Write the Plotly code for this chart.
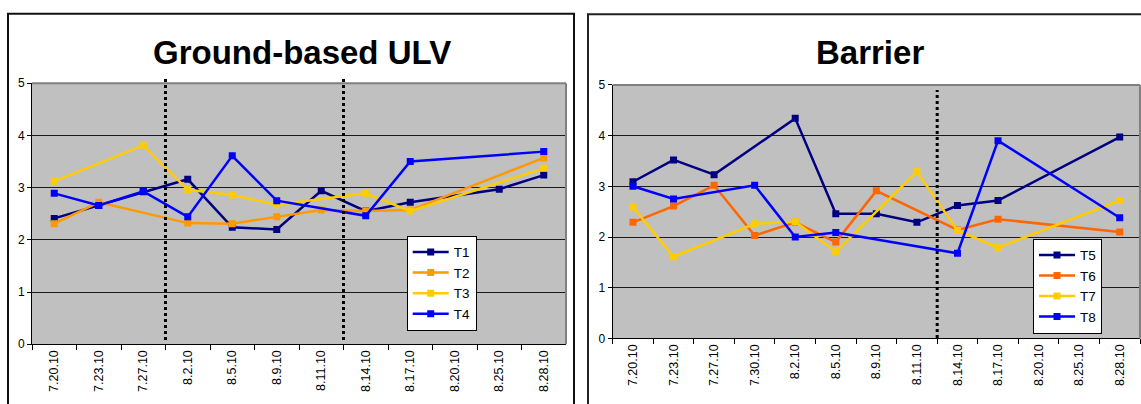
import plotly.graph_objects as go

# ---------------- data ----------------
cats_left = ["7.20.10", "7.23.10", "7.27.10", "8.2.10", "8.5.10", "8.9.10",
             "8.11.10", "8.14.10", "8.17.10", "8.20.10", "8.25.10", "8.28.10"]
T1 = [2.41, 2.66, 2.92, 3.16, 2.24, 2.20, 2.94, 2.55, 2.72, None, 2.97, 3.24]
T2 = [2.31, 2.72, None, 2.32, 2.31, 2.44, 2.57, 2.55, 2.57, None, None, 3.57]
T3 = [3.12, None, 3.81, 2.96, 2.86, 2.67, None, 2.89, 2.55, None, None, 3.37]
T4 = [2.89, 2.66, 2.93, 2.44, 3.61, 2.75, None, 2.46, 3.50, None, None, 3.69]

cats_right = ["7.20.10", "7.23.10", "7.27.10", "7.30.10", "8.2.10", "8.5.10", "8.9.10",
              "8.11.10", "8.14.10", "8.17.10", "8.20.10", "8.25.10", "8.28.10"]
T5 = [3.09, 3.52, 3.23, None, 4.34, 2.46, 2.46, 2.29, 2.62, 2.72, None, None, 3.97]
T6 = [2.29, 2.61, 3.02, 2.03, 2.29, 1.90, 2.91, None, 2.14, 2.35, None, None, 2.10]
T7 = [2.59, 1.61, None, 2.26, 2.30, 1.71, None, 3.29, 2.13, 1.79, None, None, 2.72]
T8 = [3.00, 2.75, None, 3.02, 2.00, 2.09, None, None, 1.68, 3.90, None, None, 2.38]

left_dividers = ["8.2.10", "8.14.10"]   # dotted line just before these dates
right_dividers = ["8.14.10"]

title_left = "Ground-based ULV"
title_right = "Barrier"

# ---------------- figure ----------------
W, H = 1141, 404
FONT = "Liberation Sans, Arial, sans-serif"

def px_x(v):
    return v / W

def px_y(v):
    return 1 - v / H

fig = go.Figure()

left_series = [("T1", T1, "#000080"), ("T2", T2, "#FF9900"),
               ("T3", T3, "#FFCC00"), ("T4", T4, "#0000FF")]
right_series = [("T5", T5, "#000080"), ("T6", T6, "#FF6600"),
                ("T7", T7, "#FFCC00"), ("T8", T8, "#0000FF")]

for name, vals, col in left_series:
    fig.add_trace(go.Scatter(
        x=cats_left, y=vals, name=name, mode="lines+markers",
        connectgaps=True, line=dict(color=col, width=2.5),
        marker=dict(symbol="square", size=7, color=col),
        xaxis="x", yaxis="y", legend="legend"))

for name, vals, col in right_series:
    fig.add_trace(go.Scatter(
        x=cats_right, y=vals, name=name, mode="lines+markers",
        connectgaps=True, line=dict(color=col, width=2.5),
        marker=dict(symbol="square", size=7, color=col),
        xaxis="x2", yaxis="y2", legend="legend2"))

xcommon = dict(type="category", tickson="boundaries", ticks="outside",
               ticklen=5, tickcolor="black", tickangle=-90, showline=True,
               linecolor="black", linewidth=1, showgrid=False, zeroline=False,
               tickfont=dict(family=FONT, size=12.5, color="black"), fixedrange=True)
ycommon = dict(range=[0, 5], dtick=1, ticks="outside", ticklen=4,
               tickcolor="black", showline=True, linecolor="black", linewidth=1,
               showgrid=True, gridcolor="#1a1a1a", gridwidth=1, zeroline=False,
               tickfont=dict(family=FONT, size=12, color="black"), fixedrange=True)

LEG_FONT = 13.5
fig.update_layout(
    width=W, height=H,
    margin=dict(l=0, r=0, t=0, b=0),
    paper_bgcolor="white",
    plot_bgcolor="#C0C0C0",
    font=dict(family=FONT, color="black"),
    xaxis=dict(domain=[px_x(32), px_x(566)], anchor="y",
               categoryorder="array", categoryarray=cats_left,
               range=[-0.5, len(cats_left) - 0.5], **xcommon),
    yaxis=dict(domain=[px_y(349.3), px_y(79)], anchor="x", **ycommon),
    xaxis2=dict(domain=[px_x(612.7), px_x(1140)], anchor="y2",
                categoryorder="array", categoryarray=cats_right,
                range=[-0.5, len(cats_right) - 0.5], **xcommon),
    yaxis2=dict(domain=[px_y(343.3), px_y(80.7)], anchor="x2", **ycommon),
    legend=dict(x=px_x(406.7), y=px_y(237), xanchor="left", yanchor="top",
                bgcolor="white", bordercolor="black", borderwidth=1,
                font=dict(family=FONT, size=LEG_FONT, color="black"),
                tracegroupgap=0, itemwidth=36),
    legend2=dict(x=px_x(1033), y=px_y(240), xanchor="left", yanchor="top",
                 bgcolor="white", bordercolor="black", borderwidth=1,
                 font=dict(family=FONT, size=LEG_FONT, color="black"),
                 tracegroupgap=0, itemwidth=36),
    showlegend=True,
)

shapes = []
# panel borders
shapes.append(dict(type="rect", xref="paper", yref="paper",
                   x0=px_x(8), x1=px_x(574), y0=-0.05, y1=px_y(7),
                   line=dict(color="#111111", width=2), layer="below"))
shapes.append(dict(type="rect", xref="paper", yref="paper",
                   x0=px_x(588), x1=1.05, y0=-0.05, y1=px_y(7.5),
                   line=dict(color="#222222", width=2), layer="below"))
# plot-area grey borders (top/right)
for xr, yr in (("x domain", "y domain"), ("x2 domain", "y2 domain")):
    shapes.append(dict(type="line", xref=xr, yref=yr, x0=0, x1=1, y0=1, y1=1,
                       line=dict(color="#808080", width=2)))
    shapes.append(dict(type="line", xref=xr, yref=yr, x0=1, x1=1, y0=0, y1=1,
                       line=dict(color="#808080", width=2)))
# dotted dividers
for c in left_dividers:
    xv = cats_left.index(c) - 0.5
    shapes.append(dict(type="line", xref="x", yref="paper", x0=xv, x1=xv,
                       y0=px_y(345), y1=px_y(72),
                       line=dict(color="black", width=3, dash="dot")))
for c in right_dividers:
    xv = cats_right.index(c) - 0.5
    shapes.append(dict(type="line", xref="x2", yref="paper", x0=xv, x1=xv,
                       y0=px_y(343), y1=px_y(86),
                       line=dict(color="black", width=3, dash="dot")))
fig.update_layout(shapes=shapes)

fig.add_annotation(text="<b>%s</b>" % title_left, xref="paper", yref="paper",
                   x=px_x(301.5), y=px_y(47), xanchor="center", yanchor="middle",
                   showarrow=False, font=dict(family=FONT, size=33, color="black"))
fig.add_annotation(text="<b>%s</b>" % title_right, xref="paper", yref="paper",
                   x=px_x(870), y=px_y(47), xanchor="center", yanchor="middle",
                   showarrow=False, font=dict(family=FONT, size=33, color="black"))

fig.write_html("out.html",
               config={"displayModeBar": False, "staticPlot": True},
               post_script="document.body.style.margin='0';"
                           "document.body.style.overflow='hidden';")
